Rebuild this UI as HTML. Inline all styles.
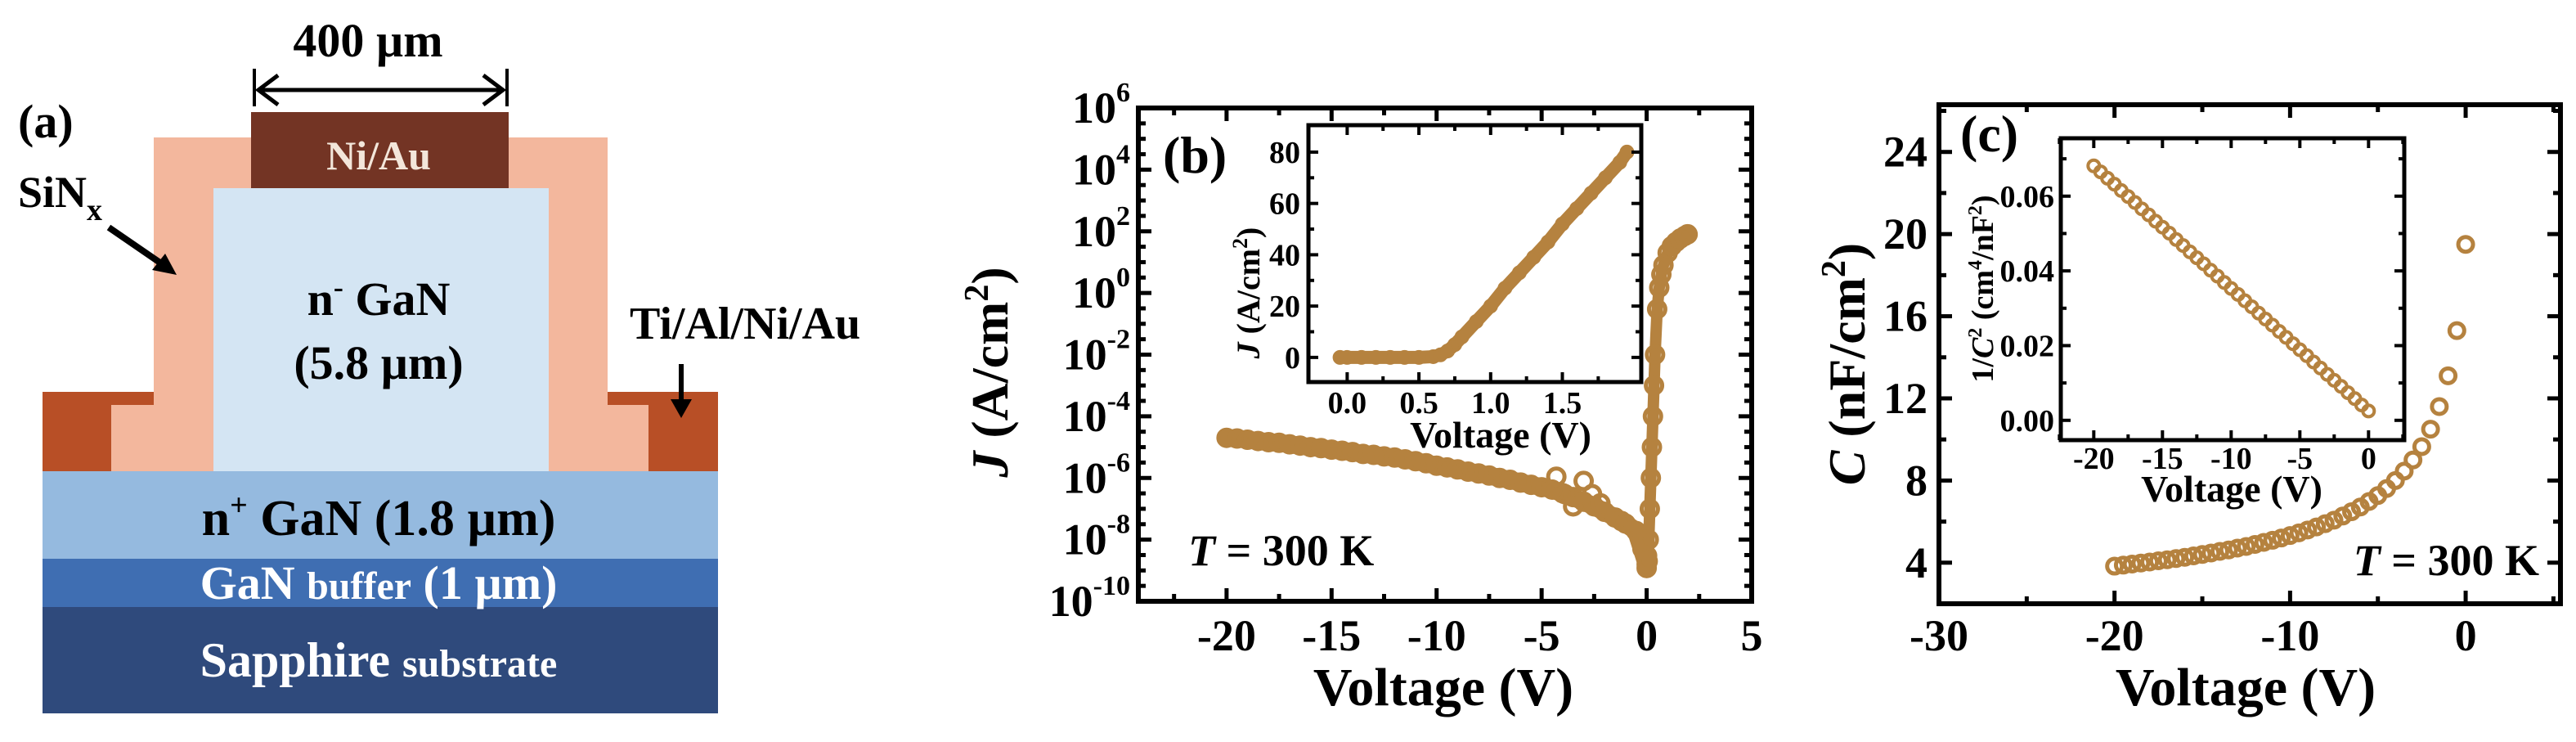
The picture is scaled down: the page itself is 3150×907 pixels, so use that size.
<!DOCTYPE html>
<html><head><meta charset="utf-8">
<style>
html,body{margin:0;padding:0;background:#fff;}
svg{display:block;font-family:"Liberation Serif",serif;font-weight:bold;}
</style></head>
<body>
<svg id="fig" width="3150" height="907" viewBox="0 0 3150 907" xmlns="http://www.w3.org/2000/svg">
<g id="panel-a">
  <rect x="52" y="742" width="826" height="130" fill="#2f4a7c"/>
  <rect x="52" y="683" width="826" height="59" fill="#3f6eb2"/>
  <rect x="52" y="576" width="826" height="107" fill="#95badf"/>
  <rect x="52" y="479" width="136" height="97" fill="#b84f26"/>
  <rect x="740" y="479" width="138" height="97" fill="#b84f26"/>
  <path d="M188 168 H743 V495 H793 V576 H136 V495 H188 Z" fill="#f3b79d"/>
  <rect x="261" y="230" width="410" height="346" fill="#d4e5f3"/>
  <rect x="307" y="137" width="315" height="93" fill="#733424"/>
  <line x1="311" y1="84" x2="311" y2="130" stroke="#000" stroke-width="4"/>
  <line x1="620" y1="84" x2="620" y2="130" stroke="#000" stroke-width="4"/>
  <line x1="316" y1="110" x2="615" y2="110" stroke="#000" stroke-width="5"/>
  <polyline points="340,92 316,110 340,128" fill="none" stroke="#000" stroke-width="5"/>
  <polyline points="591,92 615,110 591,128" fill="none" stroke="#000" stroke-width="5"/>
  <text x="450" y="69" font-size="58" text-anchor="middle">400 µm</text>
  <text x="22" y="168" font-size="58">(a)</text>
  <text x="22" y="253" font-size="54">SiN<tspan font-size="38" dy="16">x</tspan></text>
  <line x1="133" y1="278" x2="200" y2="324" stroke="#000" stroke-width="8"/>
  <polygon points="216,336 186,330 202,310" fill="#000"/>
  <text x="463" y="207" font-size="50" fill="#f3e6da" text-anchor="middle">Ni/Au</text>
  <text x="463" y="385" font-size="58" text-anchor="middle">n<tspan font-size="36" dy="-22">-</tspan><tspan dy="22"> GaN</tspan></text>
  <text x="463" y="463" font-size="58" text-anchor="middle">(5.8 µm)</text>
  <text x="770" y="414" font-size="56">Ti/Al/Ni/Au</text>
  <line x1="833" y1="445" x2="833" y2="492" stroke="#000" stroke-width="6"/>
  <polygon points="820,488 846,488 833,511" fill="#000"/>
  <text x="463" y="654" font-size="62" text-anchor="middle">n<tspan font-size="38" dy="-24">+</tspan><tspan dy="24"> GaN (1.8 µm)</tspan></text>
  <text x="463" y="732" font-size="58" fill="#fff" text-anchor="middle">GaN <tspan font-size="48">buffer</tspan> (1 µm)</text>
  <text x="463" y="827" font-size="60" fill="#fff" text-anchor="middle">Sapphire <tspan font-size="48">substrate</tspan></text>
</g>
<g id="panel-b"></g>
<g id="panel-c"></g>
</svg>
<script>
// ---- Panel (b) data: J-V ----
const revV = [-20,-19.5,-19,-18.5,-18,-17.5,-17,-16.5,-16,-15.5,-15,-14.5,-14,-13.5,-13,-12.5,-12,-11.5,-11,-10.5,-10,-9.5,-9,-8.5,-8,-7.5,-7,-6.5,-6,-5.5,-5,-4.5,-4,-3.5,-3,-2.5,-2,-1.5,-1,-0.5,0];
const revJ = [2.0e-5,1.9e-5,1.74e-5,1.58e-5,1.45e-5,1.38e-5,1.23e-5,1.12e-5,1.0e-5,9.3e-6,8.3e-6,7.6e-6,6.9e-6,6.0e-6,5.6e-6,5.0e-6,4.6e-6,4.0e-6,3.5e-6,3.0e-6,2.5e-6,2.2e-6,1.9e-6,1.6e-6,1.4e-6,1.2e-6,1.0e-6,8.7e-7,7.1e-7,6.0e-7,5.0e-7,4.2e-7,3.2e-7,2.4e-7,1.7e-7,1.2e-7,8e-8,5.2e-8,3.3e-8,1.9e-8,1.6e-9];
const scatV = [-4.3,-3.9,-3.5,-3.0,-2.6,-2.2,-1.2,-0.2,0.0,0.02];
const scatJ = [1.1e-6,3e-7,1.2e-7,8e-7,3e-7,1.5e-7,4e-8,5e-9,1.2e-9,3e-9];
const fwdV = [0.05,0.1,0.15,0.2,0.25,0.3,0.35,0.4,0.5,0.6,0.7,0.8,1.0,1.2,1.4,1.6,1.8,1.95];
const fwdJ = [2e-9,1e-8,1e-7,1e-6,1e-5,1e-4,1e-3,1e-2,0.3,1.5,4,8,20,33,45,58,70,80];
const insBV = [-0.05,0.0,0.1,0.2,0.3,0.4,0.5,0.6,0.65,0.7,0.75,0.8,0.9,1.0,1.1,1.2,1.3,1.4,1.5,1.6,1.7,1.8,1.9,1.95];
const insBJ = [0,0,0,0,0,0,0,0.3,1,2.5,5,8,14,20,27,33,39,45,52,58,64,70,76,80];
const bXTicks = [-20,-15,-10,-5,0,5];
const bXLabels = ["-20","-15","-10","-5","0","5"];
const bYExp = [-10,-8,-6,-4,-2,0,2,4,6];
const bInsXTicks = [0,0.5,1.0,1.5];
const bInsXLabels = ["0.0","0.5","1.0","1.5"];
const bInsYTicks = [0,20,40,60,80];
// ---- Panel (c) data: C-V ----
const cvV = [-20,-19.5,-19,-18.5,-18,-17.5,-17,-16.5,-16,-15.5,-15,-14.5,-14,-13.5,-13,-12.5,-12,-11.5,-11,-10.5,-10,-9.5,-9,-8.5,-8,-7.5,-7,-6.5,-6,-5.5,-5,-4.5,-4,-3.5,-3,-2.5,-2,-1.5,-1,-0.5,0];
const cvC = [3.83,3.88,3.93,3.98,4.03,4.09,4.14,4.20,4.26,4.33,4.40,4.47,4.55,4.62,4.71,4.79,4.89,4.99,5.09,5.20,5.32,5.45,5.59,5.74,5.90,6.07,6.27,6.48,6.71,6.98,7.27,7.61,8.00,8.46,9.0,9.65,10.5,11.6,13.1,15.3,19.5];
const invC2 = [0.0681,0.0665,0.0648,0.0632,0.0615,0.0599,0.0583,0.0566,0.0550,0.0533,0.0517,0.0501,0.0484,0.0468,0.0451,0.0435,0.0419,0.0402,0.0386,0.0369,0.0353,0.0337,0.0320,0.0304,0.0287,0.0271,0.0255,0.0238,0.0222,0.0205,0.0189,0.0173,0.0156,0.0140,0.0123,0.0107,0.0091,0.0074,0.0058,0.0041,0.0025];
const cXTicks = [-30,-20,-10,0];
const cXLabels = ["-30","-20","-10","0"];
const cYTicks = [4,8,12,16,20,24];
const cInsXTicks = [-20,-15,-10,-5,0];
const cInsXLabels = ["-20","-15","-10","-5","0"];
const cInsYTicks = [0,0.02,0.04,0.06];
const cInsYLabels = ["0.00","0.02","0.04","0.06"];

const NS = "http://www.w3.org/2000/svg";
const COL = "#b5823f";
function mk(parent, tag, attrs){ const e=document.createElementNS(NS,tag); for(const k in attrs) e.setAttribute(k,attrs[k]); parent.appendChild(e); return e; }
function lin(d0,d1,r0,r1){ return v => r0 + (v-d0)/(d1-d0)*(r1-r0); }

function frame(g, x0,y0,x1,y1,w){
  const r = mk(g,'rect',{x:x0,y:y0,width:x1-x0,height:y1-y0,fill:'none',stroke:'#000','stroke-width':w});
  
  
}
function xticks(g, sx, vals, y0,y1, len, w){
  vals.forEach(v=>{
    const x=sx(v);
    const a=mk(g,'line',{x1:x,y1:y1,x2:x,y2:y1-len,stroke:'#000','stroke-width':w});
    
    
    const b=mk(g,'line',{x1:x,y1:y0,x2:x,y2:y0+len,stroke:'#000','stroke-width':w});
    
    
  });
}
function yticks(g, sy, vals, x0,x1, len, w){
  vals.forEach(v=>{
    const y=sy(v);
    const a=mk(g,'line',{x1:x0,y1:y,x2:x0+len,y2:y,stroke:'#000','stroke-width':w});
    
    
    const b=mk(g,'line',{x1:x1,y1:y,x2:x1-len,y2:y,stroke:'#000','stroke-width':w});
    
    
  });
}
function range(a,b,s){ const o=[]; for(let v=a; v<=b+1e-9; v+=s) o.push(+v.toFixed(6)); return o; }
function txt(g, x,y,s,size,anchor,name){
  const t=mk(g,'text',{x:x,y:y,'font-size':size,'text-anchor':anchor});
  t.textContent=s;
  
  
  return t;
}
function markers(g, xs, ys, sx, sy, r, sw, name){
  xs.forEach((v,i)=>{
    const c=mk(g,'circle',{cx:sx(v),cy:sy(ys[i]),r:r,fill:'none',stroke:COL,'stroke-width':sw});
    
    
  });
}
function band(g, xs, ys, sx, sy, w, name){
  const p=mk(g,'polyline',{points:xs.map((v,i)=>sx(v)+','+sy(ys[i])).join(' '),fill:'none',stroke:COL,'stroke-width':w,'stroke-linejoin':'round','stroke-linecap':'round'});
  
  
}

// ===== Panel b =====
(function(){
  const g=document.getElementById('panel-b');
  const X0=1392,X1=2142,Y0=132,Y1=735;
  const sx=lin(-24.2,5,X0,X1);
  const sy=v=>lin(-10,6,Y1,Y0)(Math.log10(v));
  const syE=lin(-10,6,Y1,Y0);
  band(g,revV,revJ,sx,sy,22,'reverse-band');
  markers(g,revV,revJ,sx,sy,10,5,'reverse-point');
  markers(g,scatV,scatJ,sx,sy,10,5,'noise-point');
  band(g,fwdV,fwdJ,sx,sy,14,'forward-band');
  markers(g,fwdV,fwdJ,sx,sy,10,5,'forward-point');
  frame(g,X0,Y0,X1,Y1,6);
  xticks(g,sx,bXTicks,Y0,Y1,16,5);
  xticks(g,sx,range(-22.5,2.5,5),Y0,Y1,9,5);
  yticks(g,syE,bYExp,X0,X1,16,5);
  yticks(g,syE,range(-9.5,5.5,0.5).filter(v=>Math.abs(v%2)>0.01),X0,X1,9,5);
  bXTicks.forEach((v,i)=>txt(g,sx(v),795,bXLabels[i],54,'middle','x-tick-label'));
  bYExp.forEach(e=>{
    const t=mk(g,'text',{x:1382,y:syE(e)+18,'font-size':54,'text-anchor':'end'});
    t.innerHTML='10<tspan font-size="34" dy="-26">'+e+'</tspan>';
    
    
  });
  txt(g,1765,862,'Voltage (V)',66,'middle','x-axis-title');
  const yt=mk(g,'text',{x:0,y:0,'font-size':64,'text-anchor':'middle',transform:'translate(1232,455) rotate(-90)'});
  yt.innerHTML='<tspan font-style="italic">J</tspan> (A/cm<tspan font-size="42" dy="-24">2</tspan><tspan dy="24">)</tspan>';
  
  
  txt(g,1422,211,'(b)',64,'start','panel-b-label');
  const tt=mk(g,'text',{x:1453,y:691,'font-size':54});
  tt.innerHTML='<tspan font-style="italic">T</tspan> = 300 K';
  
  
  const ig=mk(g,'g',{});
  
  
  const IX0=1600,IX1=2007,IY0=153,IY1=467;
  mk(ig,'rect',{x:IX0,y:IY0,width:IX1-IX0,height:IY1-IY0,fill:'#fff'});
  const ix=lin(-0.27,2.05,IX0,IX1), iy=lin(-9.6,90.5,IY1,IY0);
  band(ig,insBV,insBJ,ix,iy,16,'inset-band');
  markers(ig,insBV,insBJ,ix,iy,7,4,'inset-point');
  frame(ig,IX0,IY0,IX1,IY1,5);
  xticks(ig,ix,bInsXTicks,IY0,IY1,12,4);
  xticks(ig,ix,range(0.25,1.75,0.5),IY0,IY1,7,4);
  yticks(ig,iy,bInsYTicks,IX0,IX1,12,4);
  yticks(ig,iy,range(10,70,20),IX0,IX1,7,4);
  bInsXTicks.forEach((v,i)=>txt(ig,ix(v),505,bInsXLabels[i],38,'middle','inset-x-tick-label'));
  bInsYTicks.forEach(v=>txt(ig,1590,iy(v)+13,String(v),38,'end','inset-y-tick-label'));
  txt(ig,1835,547,'Voltage (V)',46,'middle','inset-x-axis-title');
  const iyt=mk(ig,'text',{x:0,y:0,'font-size':40,'text-anchor':'middle',transform:'translate(1540,358) rotate(-90)'});
  iyt.innerHTML='<tspan font-style="italic">J</tspan> (A/cm<tspan font-size="26" dy="-15">2</tspan><tspan dy="15">)</tspan>';
  
  
})();

// ===== Panel c =====
(function(){
  const g=document.getElementById('panel-c');
  const X0=2371,X1=3131,Y0=128,Y1=738;
  const sx=lin(-30,5.4,X0,X1), sy=lin(2,26.3,Y1,Y0);
  markers(g,cvV,cvC,sx,sy,9,5,'cv-point');
  frame(g,X0,Y0,X1,Y1,6);
  xticks(g,sx,cXTicks,Y0,Y1,16,5);
  xticks(g,sx,range(-25,5,10),Y0,Y1,9,5);
  yticks(g,sy,cYTicks,X0,X1,16,5);
  yticks(g,sy,range(2,26,4),X0,X1,9,5);
  cXTicks.forEach((v,i)=>txt(g,sx(v),795,cXLabels[i],54,'middle','x-tick-label'));
  cYTicks.forEach(v=>txt(g,2357,sy(v)+18,String(v),54,'end','y-tick-label'));
  txt(g,2746,862,'Voltage (V)',66,'middle','x-axis-title');
  const yt=mk(g,'text',{x:0,y:0,'font-size':64,'text-anchor':'middle',transform:'translate(2280,445) rotate(-90)'});
  yt.innerHTML='<tspan font-style="italic">C</tspan> (nF/cm<tspan font-size="42" dy="-24">2</tspan><tspan dy="24">)</tspan>';
  
  
  txt(g,2397,185,'(c)',64,'start','panel-c-label');
  const tt=mk(g,'text',{x:3105,y:703,'font-size':54,'text-anchor':'end'});
  tt.innerHTML='<tspan font-style="italic">T</tspan> = 300 K';
  
  
  const ig=mk(g,'g',{});
  
  
  const IX0=2520,IX1=2940,IY0=169,IY1=538;
  mk(ig,'rect',{x:IX0,y:IY0,width:IX1-IX0,height:IY1-IY0,fill:'#fff'});
  const ix=lin(-22.4,2.6,IX0,IX1), iy=lin(-0.0053,0.0755,IY1,IY0);
  markers(ig,cvV,invC2,ix,iy,7,4,'inset-point');
  frame(ig,IX0,IY0,IX1,IY1,5);
  xticks(ig,ix,cInsXTicks,IY0,IY1,12,4);
  xticks(ig,ix,range(-22.5,2.5,5),IY0,IY1,7,4);
  yticks(ig,iy,cInsYTicks,IX0,IX1,12,4);
  yticks(ig,iy,range(0.01,0.07,0.02),IX0,IX1,7,4);
  cInsXTicks.forEach((v,i)=>txt(ig,ix(v),573,cInsXLabels[i],38,'middle','inset-x-tick-label'));
  cInsYTicks.forEach((v,i)=>txt(ig,2512,iy(v)+13,cInsYLabels[i],38,'end','inset-y-tick-label'));
  txt(ig,2729,613,'Voltage (V)',46,'middle','inset-x-axis-title');
  const iyt=mk(ig,'text',{x:0,y:0,'font-size':38,'text-anchor':'middle',transform:'translate(2437,353) rotate(-90)'});
  iyt.innerHTML='1/<tspan font-style="italic">C</tspan><tspan font-size="24" dy="-14">2</tspan><tspan dy="14"> (cm</tspan><tspan font-size="24" dy="-14">4</tspan><tspan dy="14">/nF</tspan><tspan font-size="24" dy="-14">2</tspan><tspan dy="14">)</tspan>';
  
  
})();
</script>
</body></html>
